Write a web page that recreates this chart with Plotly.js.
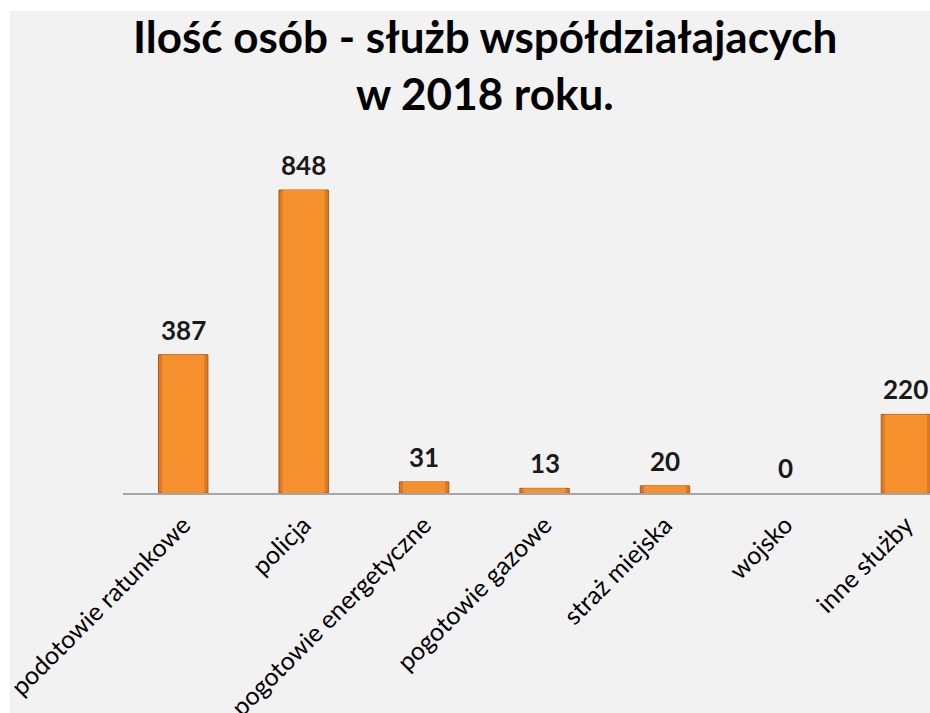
<!DOCTYPE html>
<html>
<head>
<meta charset="utf-8">
<script src="https://cdn.plot.ly/plotly-3.0.1.min.js"></script>
<style>
  html, body { margin: 0; padding: 0; background: #ffffff; }
  #chart { position: absolute; left: 10px; top: 11px; width: 920px; height: 702px; }
</style>
</head>
<body>
<div id="chart"></div>
<script>
// Dane z wykresu
const categories = ['podotowie ratunkowe', 'policja', 'pogotowie energetyczne', 'pogotowie gazowe', 'straż miejska', 'wojsko', 'inne służby'];
const values = [387, 848, 31, 13, 20, 0, 220];
const titleLines = ['Ilość osób - służb współdziałajacych', 'w 2018 roku.'];

const FONT = 'Lato, sans-serif';

// słupek zewnętrzny (ciemniejsza krawędź)
const outer = {
    x: categories,
    y: values,
    type: 'bar',
    width: 0.41,
    marker: {
        color: '#df7a22',
        line: { color: values.map(v => v > 0 ? '#a9581b' : 'rgba(0,0,0,0)'), width: 1 }
    },
    hoverinfo: 'x+y'
};

// jaśniejsze wnętrze słupka
const inner = {
    x: categories,
    y: values,
    type: 'bar',
    width: 0.35,
    marker: { color: '#f5902c', line: { width: 0 } },
    hoverinfo: 'skip'
};

// etykiety wartości nad słupkami
const labels = categories.map((c, i) => ({
    x: c,
    y: values[i],
    text: String(values[i]),
    showarrow: false,
    yanchor: 'middle',
    yshift: 25,
    font: { family: FONT, size: 26, color: '#1a1a1a', weight: 'bold' }
}));

// tytuł w dwóch liniach jako adnotacje
const titleY = [1.332, 1.166];
const titles = titleLines.map((t, i) => ({
    xref: 'paper', yref: 'paper',
    x: 0.4486, y: titleY[i],
    xanchor: 'center', yanchor: 'middle',
    text: '<b>' + t + '</b>',
    showarrow: false,
    font: { family: FONT, size: 44, color: '#000' }
}));

const layout = {
    width: 920,
    height: 702,
    margin: { l: 113, r: 0, t: 139, b: 220 },
    paper_bgcolor: '#f2f2f2',
    plot_bgcolor: '#f2f2f2',
    font: { family: FONT, color: '#000' },
    barmode: 'overlay',
    xaxis: {
        range: [-0.5, 6.2],
        showline: true,
        linecolor: '#a6a6a6',
        linewidth: 1.5,
        ticks: '',
        tickangle: -45,
        ticklabelstandoff: 6,
        tickfont: { family: FONT, size: 25, color: '#000' },
        showgrid: false,
        fixedrange: true
    },
    yaxis: {
        range: [0, 960],
        visible: false,
        showgrid: false,
        zeroline: false,
        fixedrange: true
    },
    annotations: titles.concat(labels),
    showlegend: false
};

Plotly.newPlot('chart', [outer, inner], layout, { displayModeBar: false, staticPlot: true });
</script>
</body>
</html>
